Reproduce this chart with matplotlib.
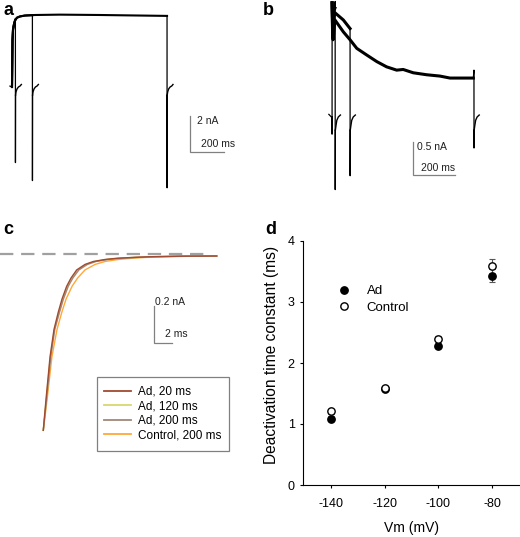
import matplotlib
matplotlib.use('Agg')
import matplotlib.pyplot as plt
from matplotlib.lines import Line2D
from matplotlib.patches import Rectangle

plt.rcParams['font.family'] = ['Liberation Sans', 'DejaVu Sans']
plt.rcParams['axes.unicode_minus'] = False

W, H = 520, 537

# ---------------- data ----------------
# panel a: activation currents (ms, nA), three pulse lengths
a_pre_t = [-12, 0]
a_pre_i = [0.05, 0]
a_act_t = [0, 3, 6, 12, 18, 29, 47, 76, 135, 280, 520, 910]
a_act_i = [0, 2.6, 3.2, 3.5, 3.7, 3.85, 3.92, 3.97, 4.0, 4.02, 4.0, 3.95]
a_steps = [20, 120, 912]
a_end_i = [3.75, 3.99, 3.95]
a_tail_min = [-4.2, -5.2, -5.6]
a_tail_dt = [1, 4, 10, 18, 28, 35]
a_tail_i = [-0.45, -0.26, -0.1, 0.0, 0.06, 0.14]

# panel b: three sweeps (ms, nA)
b_pre_t = [-15, -3, 0]
b_pre_i = [0.04, 0.0, 0.0]
b_on_t = [0, 0.3, 0.6]
b_on_i = [0, -0.26, 1.73]
b_sw1_t = [3, 8, 14]
b_sw1_i = [1.3, 1.6, 1.65]
b_sw2_t = [3, 8, 14, 54, 86]
b_sw2_i = [1.2, 1.5, 1.58, 1.47, 1.34]
b_sw3_t = [5, 14, 54, 86, 118, 165, 213, 260, 308, 339, 387, 451, 514, 562, 609, 673]
b_sw3_i = [1.17, 1.47, 1.29, 1.17, 1.04, 0.94, 0.84, 0.76, 0.71, 0.72, 0.67,
           0.64, 0.62, 0.59, 0.59, 0.59]
b_steps = [15, 86, 676]
b_tail_top = [1.75, 1.34, 0.71]
b_tail_min = [-1.1, -0.89, -0.47]
b_tail_dt = [1, 4, 8, 15, 25]
b_tail_i = [-0.2, -0.13, -0.05, 0.0, 0.03]

# panel c: deactivating tail currents (ms, nA)
c_levels = [-0.95, -0.785, -0.55, -0.40, -0.305, -0.235, -0.165, -0.12, -0.076,
            -0.046, -0.030, -0.019, -0.0125, -0.007, -0.004, -0.001, 0]
c_ad20_t = [0, 0.3, 0.76, 1.21, 1.7, 2.11, 2.64, 3.13, 3.77, 4.71, 5.65, 6.97,
            8.29, 10.4, 12.1, 15.4, 19.6]
c_ad120_t = [0, 0.33, 0.8, 1.26, 1.78, 2.2, 2.74, 3.24, 3.9, 4.85, 5.8, 7.1,
             8.5, 10.6, 12.4, 15.7, 19.6]
c_ad200_t = [0, 0.36, 0.84, 1.3, 1.84, 2.27, 2.82, 3.34, 4.02, 4.98, 5.95, 7.3,
             8.7, 10.9, 12.7, 16.0, 19.6]
c_ctrl_t = [0, 0.42, 0.97, 1.55, 2.1, 2.57, 3.25, 3.88, 4.71, 5.85, 6.95, 8.44,
            10.0, 11.8, 13.8, 17.0, 19.6]
c_labels = ['Ad, 20 ms', 'Ad, 120 ms', 'Ad, 200 ms', 'Control, 200 ms']
c_colors = ['#a04a32', '#d8d870', '#a08878', '#ffa838']
c_zero_level = 0.01
c_zero_span = [-4.9, 18.5]

# panel d: deactivation time constants
vm = [-140, -120, -100, -80]
tau_ad = [1.09, 1.57, 2.28, 3.43]
err_ad = [0.04, 0.03, 0.04, 0.11]
tau_ctrl = [1.21, 1.595, 2.40, 3.59]
err_ctrl = [0.04, 0.03, 0.04, 0.11]


def px(x, y):
    return x / W, 1 - y / H


def px_axes(fig, x0, y0, x1, y1):
    return fig.add_axes([x0 / W, 1 - y1 / H, (x1 - x0) / W, (y1 - y0) / H])


def trace_axes(fig, box, origin, ms_px, na_px):
    x0, y0, x1, y1 = box
    ox, oy = origin
    ax = px_axes(fig, x0, y0, x1, y1)
    ax.set_xlim((x0 - ox) * ms_px, (x1 - ox) * ms_px)
    ax.set_ylim((oy - y1) * na_px, (oy - y0) * na_px)
    ax.axis('off')
    return ax


def scale_bar(ax, origin, ms_px, na_px, corner, dt, di, lab_i, lab_t, pos_i, pos_t):
    ox, oy = origin
    cx = (corner[0] - ox) * ms_px
    cy = (oy - corner[1]) * na_px
    ax.plot([cx, cx, cx + dt], [cy + di, cy, cy], color='#808080', lw=0.9,
            solid_joinstyle='miter')
    fig.text(*px(*pos_i), lab_i, fontsize=7.5, va='center', color='#202020')
    fig.text(*px(*pos_t), lab_t, fontsize=7.5, va='center', color='#202020')


fig = plt.figure(figsize=(W / 100, H / 100), dpi=100)

# ---------------- panel a ----------------
a_org = (12, 87)
a_ms, a_na = 200 / 34, 2 / 36
ax_a = trace_axes(fig, (0, 0, 250, 200), a_org, a_ms, a_na)
ax_a.plot(a_pre_t, a_pre_i, color='black', lw=0.9)
for dur, iend, amin in zip(a_steps, a_end_i, a_tail_min):
    bt = [t for t in a_act_t if t < dur] + [dur]
    bi = a_act_i[:len(bt) - 1] + [iend]
    ax_a.plot(bt, bi, color='black', lw=1.5)
    # drop to the tail minimum, then the fast recovery and the small hook
    ax_a.plot([dur, dur + 0.3, dur + a_tail_dt[0]], [iend, amin, a_tail_i[0]],
              color='black', lw=0.9)
    ax_a.plot([dur + d for d in a_tail_dt], a_tail_i, color='black', lw=1.0)
scale_bar(ax_a, a_org, a_ms, a_na, (190, 152), 200, 2, '2 nA', '200 ms',
          (197, 121), (201, 144))

# ---------------- panel b ----------------
b_org = (332, 117)
b_ms, b_na = 200 / 42, 0.5 / 33
ax_b = trace_axes(fig, (260, 0, 520, 200), b_org, b_ms, b_na)
ax_b.plot(b_pre_t, b_pre_i, color='black', lw=0.9)
ax_b.plot(b_on_t, b_on_i, color='black', lw=0.9)
sweeps = [(b_sw1_t, b_sw1_i), (b_sw2_t, b_sw2_i), (b_sw3_t, b_sw3_i)]
for (st, si), dur, top, bmin in zip(sweeps, b_steps, b_tail_top, b_tail_min):
    ax_b.plot([b_on_t[-1]] + st, [b_on_i[-1]] + si, color='black', lw=2.2)
    ax_b.plot([st[-1], dur, dur + 0.3, dur + b_tail_dt[0]],
              [si[-1], top, bmin, b_tail_i[0]], color='black', lw=0.9)
    ax_b.plot([dur + d for d in b_tail_dt], b_tail_i, color='black', lw=1.0)
scale_bar(ax_b, b_org, b_ms, b_na, (413, 175), 200, 0.5, '0.5 nA', '200 ms',
          (417, 147), (421, 168))

# ---------------- panel c ----------------
c_org = (43.3, 256)
c_ms, c_na = 2 / 17.7, 0.2 / 36.7
ax_c = trace_axes(fig, (0, 230, 260, 470), c_org, c_ms, c_na)
ax_c.plot(c_zero_span, [c_zero_level, c_zero_level], color='#a0a0a0', lw=1.6,
          dashes=(6, 3.5))
handles = []
for tt, col, lab, z in zip([c_ad20_t, c_ad120_t, c_ad200_t, c_ctrl_t], c_colors,
                           c_labels, [5, 3, 4, 2]):
    h, = ax_c.plot(tt, c_levels, color=col, lw=1.0, label=lab, zorder=z)
    handles.append(h)
leg = ax_c.legend(handles=handles, loc='upper left',
                  bbox_to_anchor=(104 / 260, 1 - (386 - 230) / 240),
                  fontsize=8.5, frameon=False, handlelength=2.25,
                  handletextpad=0.6, labelspacing=0.2, borderpad=0,
                  borderaxespad=0)
for lh in leg.get_lines():
    lh.set_linewidth(1.3)
fig.add_artist(Rectangle(px(96.7, 451), (229.3 - 96.7) / W, (451 - 377.3) / H,
                         transform=fig.transFigure, fill=False,
                         edgecolor='#808080', lw=0.9))
scale_bar(ax_c, c_org, c_ms, c_na, (154, 342.7), 2, 0.2, '0.2 nA', '2 ms',
          (155, 302), (165, 334))

# ---------------- panel d ----------------
ax_d = px_axes(fig, 303, 241, 520, 485)
ax_d.errorbar(vm, tau_ad, yerr=err_ad, fmt='none', ecolor='#555555',
              elinewidth=0.8, capsize=2.3, capthick=0.8)
ax_d.errorbar(vm, tau_ctrl, yerr=err_ctrl, fmt='none', ecolor='#555555',
              elinewidth=0.8, capsize=2.3, capthick=0.8)
ax_d.plot(vm, tau_ad, 'o', color='black', ms=5.3, zorder=3)
ax_d.plot(vm, tau_ctrl, 'o', mfc='white', mec='black', mew=1.0, ms=5.3, zorder=4)
ax_d.set_xlim(-150.4, -69.6)
ax_d.set_ylim(0, 4)
ax_d.set_xticks([-140, -120, -100, -80])
ax_d.set_yticks([0, 1, 2, 3, 4])
ax_d.spines['top'].set_visible(False)
ax_d.spines['right'].set_visible(False)
for s in ['left', 'bottom']:
    ax_d.spines[s].set_linewidth(0.8)
ax_d.tick_params(direction='out', length=2.5, width=0.8, labelsize=9, pad=3.5)
ax_d.tick_params(axis='x', pad=7)
ax_d.set_xlabel('Vm (mV)', fontsize=10, labelpad=8)
ax_d.set_ylabel('Deactivation time constant (ms)', fontsize=11.2)
ax_d.yaxis.set_label_coords(-0.11, 0.533)
d_handles = [Line2D([], [], ls='none', marker='o', color='black', ms=5.3),
             Line2D([], [], ls='none', marker='o', mfc='white', mec='black',
                    mew=1.0, ms=5.3)]
ax_d.legend(d_handles, ['Ad', 'Control'], loc='upper left',
            bbox_to_anchor=((337.5 - 303) / 217, 0.82),
            frameon=False, fontsize=9.5, handlelength=1.0, handletextpad=1.2,
            labelspacing=0.35, borderpad=0, borderaxespad=0, numpoints=1)

# panel letters
for lab, (x, y) in zip('abcd', [(3, 2), (263, 2), (3, 221), (265, 221)]):
    fig.text(*px(x, y), lab, fontsize=13, fontweight='bold', va='top')

fig.savefig('out.png', dpi=100)
